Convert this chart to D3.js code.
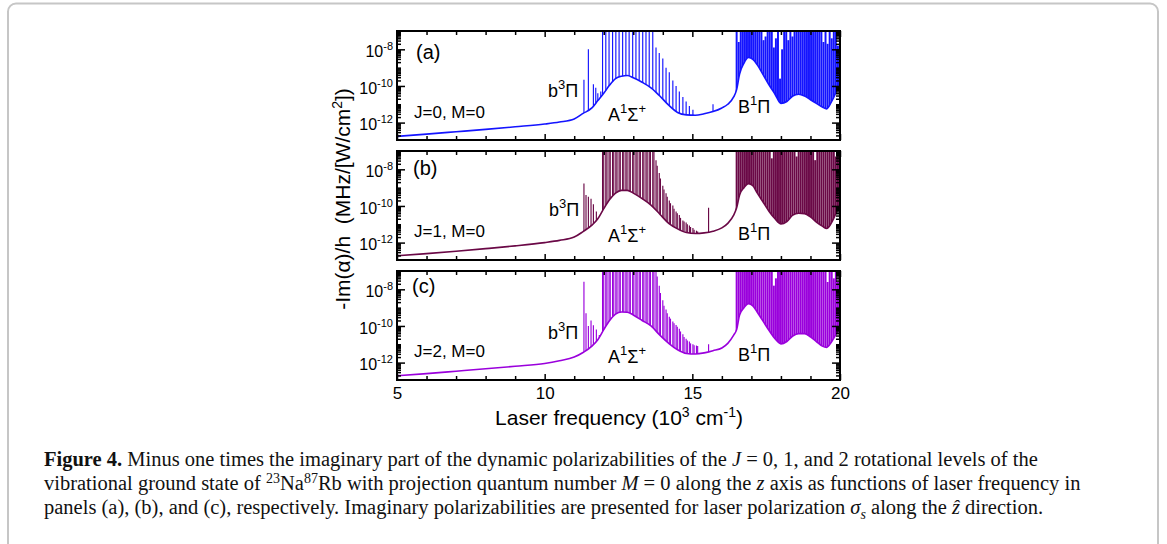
<!DOCTYPE html>
<html><head><meta charset="utf-8">
<script src="https://cdn.jsdelivr.net/npm/d3@7"></script>
<style>
html,body{margin:0;padding:0;background:#fff;}
svg{display:block;}
text{white-space:pre;}
</style></head><body>
<svg id="c" width="1167" height="544"></svg>
<script>
// ---------------- DATA (log10 of -Im(alpha)/h, MHz/[W/cm^2]) ----------------
const xMajor = [5, 10, 15, 20];
const xMinor = [6, 7, 8, 9, 11, 12, 13, 14, 16, 17, 18, 19];
const yMajorExp = [-12, -10, -8];
const panelLabels = ["(a)", "(b)", "(c)"];
const stateLabels = ["J=0, M=0", "J=1, M=0", "J=2, M=0"];

// smooth background (continuum / line wings)
const bgX = [5, 6, 7, 8, 9, 10, 10.5, 11, 11.3, 11.6, 11.8, 12.0, 12.2, 12.4, 12.6, 12.8, 13.0, 13.3, 13.6, 13.9,
  14.2, 14.5, 14.8, 15.1, 15.4, 15.7, 16.0, 16.2, 16.4, 16.5, 16.6, 16.75, 16.9, 17.05, 17.2, 17.4, 17.6, 17.8, 18.0, 18.2,
  18.4, 18.6, 18.8, 19.0, 19.2, 19.4, 19.55, 19.7, 19.85, 20];
const bgA = [-12.75, -12.63, -12.5, -12.37, -12.23, -12.08, -11.97, -11.8, -11.5, -11.2, -10.8, -10.4, -9.95, -9.6, -9.47, -9.43, -9.55, -9.8, -10.1, -10.55,
  -11.05, -11.45, -11.58, -11.6, -11.52, -11.4, -11.2, -11.0, -10.6, -10.2, -9.35, -8.75, -8.45, -8.55, -8.85, -9.4, -9.95, -10.45, -10.95, -10.85,
  -10.55, -10.45, -10.55, -10.75, -10.95, -11.15, -11.25, -10.9, -10.4, -9.7];
const bgB = [-12.72, -12.6, -12.47, -12.33, -12.18, -12.0, -11.88, -11.7, -11.4, -11.05, -10.7, -10.15, -9.65, -9.3, -9.15, -9.15, -9.3, -9.6, -9.95, -10.45,
  -10.95, -11.25, -11.45, -11.5, -11.47, -11.38, -11.2, -10.95, -10.5, -10.1, -9.4, -9.0, -8.78, -8.9, -9.3, -9.8, -10.3, -10.7, -10.98, -10.85,
  -10.5, -10.4, -10.42, -10.6, -10.88, -11.1, -11.23, -10.95, -10.45, -9.87];
const bgC = [-12.72, -12.6, -12.47, -12.34, -12.2, -12.05, -11.9, -11.7, -11.45, -11.1, -10.75, -10.2, -9.7, -9.35, -9.24, -9.25, -9.4, -9.7, -10.0, -10.5,
  -10.95, -11.3, -11.5, -11.53, -11.47, -11.35, -11.2, -10.95, -10.5, -10.2, -9.4, -9.0, -8.78, -8.9, -9.25, -9.75, -10.25, -10.7, -10.98, -10.85,
  -10.55, -10.42, -10.42, -10.6, -10.85, -11.1, -11.17, -10.9, -10.5, -10.07];

// resonance lines, b3Pi / A1Sigma+ region, panel (a)
const lineAX = [11.33, 11.48, 11.65, 11.73, 11.80, 11.90,
  11.96, 12.07, 12.18, 12.30, 12.41, 12.52, 12.64, 12.75, 12.86, 12.98, 13.09, 13.20, 13.32, 13.43, 13.54, 13.66,
  13.77, 13.88, 14.00, 14.11, 14.22, 14.34, 14.45, 14.56, 14.68, 14.79, 14.90, 15.02, 15.70];
const lineTopA = [-9.66, -8.0, -9.9, -10.1, -10.4, -10.3,
  -6, -6, -6, -6, -6, -6, -6, -6, -6, -6, -6, -6, -6, -6, -6, -6,
  -7.9, -8.2, -8.5, -9.0, -9.25, -9.7, -10.0, -10.3, -10.6, -10.85, -11.1, -11.3, -11.0];

// resonance lines, b3Pi / A1Sigma+ region, panels (b) and (c)
const lineBCX = [11.33, 11.40, 11.48, 11.57, 11.65, 11.75, 11.85,
  11.96, 12.00, 12.07, 12.11, 12.18, 12.22, 12.30, 12.34, 12.41, 12.45, 12.52, 12.56, 12.64, 12.68, 12.75, 12.79,
  12.86, 12.90, 12.98, 13.02, 13.09, 13.13, 13.20, 13.24, 13.32, 13.36, 13.43, 13.47, 13.54, 13.58, 13.66, 13.70,
  13.77, 13.81, 13.88, 13.92, 14.00, 14.04, 14.11, 14.15, 14.22, 14.26, 14.34, 14.38, 14.45, 14.49, 14.56, 14.60,
  14.68, 14.72, 14.79, 14.83, 14.90, 14.94, 15.02, 15.06, 15.14, 15.18, 15.55];
const lineTopB = [-8.78, -9.4, -9.5, -9.6, -9.9, -10.3, -10.6,
  -6, -6, -6, -6, -6, -6, -6, -6, -6, -6, -6, -6, -6, -6, -6, -6,
  -6, -6, -6, -6, -6, -6, -6, -6, -6, -6, -6, -6, -6, -6, -6, -6,
  -7.5, -7.8, -8.2, -8.5, -8.9, -9.1, -9.3, -9.5, -9.7, -9.85, -9.97, -10.15, -10.3, -10.4, -10.5, -10.65,
  -10.8, -10.85, -10.9, -11.0, -11.07, -11.15, -11.2, -11.3, -11.35, -11.4, -10.1];
const lineTopC = [-7.59, -9.3, -10.0, -9.7, -9.96, -10.2, -10.5,
  -6, -6, -6, -6, -6, -6, -6, -6, -6, -6, -6, -6, -6, -6, -6, -6,
  -6, -6, -6, -6, -6, -6, -6, -6, -6, -6, -6, -6, -6, -6, -6, -6,
  -6.9, -7.3, -7.8, -8.2, -8.6, -8.9, -9.1, -9.3, -9.5, -9.6, -9.75, -9.85, -9.95, -10.05, -10.15, -10.3,
  -10.45, -10.6, -10.7, -10.8, -10.85, -10.95, -11.0, -11.05, -11.07, -11.1, -11.0];

// dense B1Pi band lines
const bandX = [16.50, 16.57, 16.64, 16.71, 16.78, 16.85, 16.92, 16.99, 17.06, 17.13, 17.20, 17.27, 17.34, 17.41, 17.48, 17.55, 17.62,
  17.69, 17.76, 17.83, 17.90, 17.97, 18.04, 18.11, 18.18, 18.25, 18.32, 18.39, 18.46, 18.53, 18.60, 18.67, 18.74, 18.81,
  18.88, 18.95, 19.02, 19.09, 19.16, 19.23, 19.30, 19.37, 19.44, 19.51, 19.58, 19.65, 19.72, 19.79, 19.86, 19.93, 19.99];
const bandTopA = [-6, -7.6, -6, -6, -6, -6, -6, -6, -6, -6, -6, -6, -6, -7.5, -7.3, -6, -6,
  -6, -7.9, -7.4, -6, -9.6, -8.0, -6, -6, -7.5, -6, -7.3, -6, -6, -6, -6, -6, -6,
  -6, -6, -6, -6, -6, -6, -6, -6, -7.6, -6, -7.7, -6, -7.4, -6, -6, -7.8, -8.2];
const bandTopB = [-6, -6, -6, -6, -6, -6, -6, -6, -6, -6, -6, -6, -6, -6, -6, -6, -6,
  -7.4, -6, -6, -6, -6, -6, -6, -6, -6, -6, -6, -6, -7.3, -6, -6, -6, -6,
  -6, -6, -6, -6, -7.5, -6, -6, -6, -6, -6, -6, -6, -6, -6, -7.3, -6, -6];
const bandTopC = [-6, -6, -6, -6, -6, -6, -6, -6, -6, -6, -6, -6, -6, -6, -6, -6, -6,
  -6, -7.8, -7.4, -6, -6, -6, -6, -6, -6, -6, -6, -6, -6, -6, -6, -6, -6,
  -6, -6, -6, -6, -6, -6, -6, -6, -6, -6, -7.6, -6, -6, -7.4, -6, -7.6, -6];

// ---------------- DRAWING ----------------
const svg = d3.select("#c");
const SANS = "'Liberation Sans', Arial, sans-serif";
const SERIF = "'Liberation Serif', 'Times New Roman', serif";

svg.append("rect").attr("x", 8).attr("y", 3.5).attr("width", 1150).attr("height", 620)
  .attr("rx", 8).attr("fill", "none").attr("stroke", "#c6c6c6").attr("stroke-width", 2);

function rich(textSel, parts, supShift, supSize) {
  let shift = 0;
  parts.forEach(p => {
    const ts = textSel.append("tspan").text(p.t);
    const target = p.sup ? -supShift : (p.sub ? supShift * 0.6 : 0);
    if (target !== shift) ts.attr("dy", target - shift);
    shift = target;
    if (p.sup || p.sub) ts.attr("font-size", supSize);
    if (p.b) ts.attr("font-weight", "bold");
    if (p.i) ts.attr("font-style", "italic");
  });
}

const x = d3.scaleLinear().domain([5, 20]).range([397, 840]);
const panelTops = [31, 151, 271];
const H = 109;
const colors = ["#1414ff", "#6a0846", "#9a00dc"];
const bgs = [bgA, bgB, bgC];
const lineXs = [lineAX, lineBCX, lineBCX];
const lineTops = [lineTopA, lineTopB, lineTopC];
const bandTops = [bandTopA, bandTopB, bandTopC];

const labelPos = [
  {p: [416, 59], s: [414, 118], b: [548, 97], a: [608, 121], B: [738, 113]},
  {p: [413, 175], s: [414, 237], b: [549, 216], a: [608, 242], B: [738, 240]},
  {p: [412, 293], s: [414, 357], b: [548, 339], a: [608, 363], B: [738, 361]}
];

const minorY = [];
for (let k = -13; k <= -8; k++) for (let m = 1; m <= 9; m++) {
  const v = m * Math.pow(10, k);
  if (m === 1 && (k === -12 || k === -10 || k === -8)) continue;
  if (v >= Math.pow(10, -12.95) && v <= 1e-7) minorY.push(v);
}

panelTops.forEach((top, i) => {
  const y = d3.scaleLog().domain([Math.pow(10, -12.95), 1e-7]).range([top + H, top]);
  const g = svg.append("g");
  const col = colors[i];
  const cid = "clip" + i;
  svg.append("clipPath").attr("id", cid).append("rect")
    .attr("x", x(5)).attr("y", top).attr("width", x(20) - x(5)).attr("height", H);
  const plot = g.append("g").attr("clip-path", `url(#${cid})`);

  const bgData = bgX.map((d, j) => ({x: d, v: bgs[i][j]}));
  const lines = lineXs[i].map((d, j) => ({x: d, v: lineTops[i][j]}))
    .concat(bandX.map((d, j) => ({x: d, v: bandTops[i][j], band: true})));

  plot.selectAll("line.sp").data(lines).join("line").attr("class", "sp")
    .attr("x1", d => x(d.x)).attr("x2", d => x(d.x))
    .attr("y1", top + H + 2).attr("y2", d => y(Math.pow(10, d.v)))
    .attr("stroke", col).attr("stroke-width", d => d.band ? 1.95 : 1.15);

  // white below the continuum
  plot.append("path").datum(bgData)
    .attr("d", d3.area().curve(d3.curveMonotoneX).x(d => x(d.x)).y0(top + H + 3).y1(d => y(Math.pow(10, d.v))))
    .attr("fill", "#fff");
  plot.append("path").datum(bgData)
    .attr("d", d3.line().curve(d3.curveMonotoneX).x(d => x(d.x)).y(d => y(Math.pow(10, d.v))))
    .attr("fill", "none").attr("stroke", col).attr("stroke-width", 1.6);

  // axes (ticks inward)
  const styleAxis = sel => { sel.select(".domain").remove(); sel.selectAll(".tick line").attr("stroke", "#000").attr("stroke-width", 1.5); };
  g.append("g").attr("transform", `translate(${x(5)},0)`)
    .call(d3.axisLeft(y).tickValues(minorY).tickSize(-4).tickFormat("")).call(styleAxis);
  g.append("g").attr("transform", `translate(${x(20)},0)`)
    .call(d3.axisRight(y).tickValues(minorY).tickSize(-4).tickFormat("")).call(styleAxis);
  g.append("g").attr("transform", `translate(${x(20)},0)`)
    .call(d3.axisRight(y).tickValues(yMajorExp.map(e => Math.pow(10, e))).tickSize(-8).tickFormat("")).call(styleAxis);
  const la = g.append("g").attr("transform", `translate(${x(5)},0)`)
    .call(d3.axisLeft(y).tickValues(yMajorExp.map(e => Math.pow(10, e))).tickSize(-8).tickPadding(4))
    .call(styleAxis);
  la.selectAll(".tick text").each(function (d) {
    const e = Math.round(Math.log10(d));
    const t = d3.select(this).text(null).attr("font-family", SANS).attr("font-size", 16).attr("fill", "#000").attr("dy", "0.45em");
    rich(t, [{t: "10"}, {t: String(e), sup: true}], 7, 11);
  });
  g.append("g").attr("transform", `translate(0,${top})`)
    .call(d3.axisTop(x).tickValues(xMinor).tickSize(-4).tickFormat("")).call(styleAxis);
  g.append("g").attr("transform", `translate(0,${top})`)
    .call(d3.axisTop(x).tickValues(xMajor).tickSize(-6).tickFormat("")).call(styleAxis);
  g.append("g").attr("transform", `translate(0,${top + H})`)
    .call(d3.axisBottom(x).tickValues(xMinor).tickSize(-4).tickFormat("")).call(styleAxis);
  const bx = g.append("g").attr("transform", `translate(0,${top + H})`)
    .call(d3.axisBottom(x).tickValues(xMajor).tickSize(-6).tickPadding(7).tickFormat(i === 2 ? d3.format("d") : ""))
    .call(styleAxis);
  bx.selectAll(".tick text").attr("font-family", SANS).attr("font-size", 17).attr("fill", "#000");

  g.append("rect").attr("x", x(5)).attr("y", top).attr("width", x(20) - x(5)).attr("height", H)
    .attr("fill", "none").attr("stroke", "#000").attr("stroke-width", 2);

  const L = labelPos[i];
  g.append("text").attr("x", L.p[0]).attr("y", L.p[1]).attr("font-family", SANS).attr("font-size", 20).text(panelLabels[i]);
  g.append("text").attr("x", L.s[0]).attr("y", L.s[1]).attr("font-family", SANS).attr("font-size", 17).text(stateLabels[i]);
  rich(g.append("text").attr("x", L.b[0]).attr("y", L.b[1]).attr("font-family", SANS).attr("font-size", 18),
    [{t: "b"}, {t: "3", sup: true}, {t: "Π"}], 8, 13);
  rich(g.append("text").attr("x", L.a[0]).attr("y", L.a[1]).attr("font-family", SANS).attr("font-size", 18),
    [{t: "A"}, {t: "1", sup: true}, {t: "Σ"}, {t: "+", sup: true}], 8, 13);
  rich(g.append("text").attr("x", L.B[0]).attr("y", L.B[1]).attr("font-family", SANS).attr("font-size", 18),
    [{t: "B"}, {t: "1", sup: true}, {t: "Π"}], 8, 13);
});

// axis titles
rich(svg.append("text").attr("transform", "translate(350,199) rotate(-90)").attr("text-anchor", "middle")
  .attr("font-family", SANS).attr("font-size", 21),
  [{t: "-Im(α)/h  (MHz/[W/cm"}, {t: "2", sup: true}, {t: "])"}], 8, 14);
rich(svg.append("text").attr("x", 619).attr("y", 425).attr("text-anchor", "middle")
  .attr("font-family", SANS).attr("font-size", 21),
  [{t: "Laser frequency (10"}, {t: "3", sup: true}, {t: " cm"}, {t: "-1", sup: true}, {t: ")"}], 8, 14);

// caption
const capLines = [
  [{t: "Figure 4.", b: true}, {t: " Minus one times the imaginary part of the dynamic polarizabilities of the "}, {t: "J", i: true}, {t: " = 0, 1, and 2 rotational levels of the"}],
  [{t: "vibrational ground state of "}, {t: "23", sup: true}, {t: "Na"}, {t: "87", sup: true}, {t: "Rb with projection quantum number "}, {t: "M", i: true}, {t: " = 0 along the "}, {t: "z", i: true}, {t: " axis as functions of laser frequency in"}],
  [{t: "panels (a), (b), and (c), respectively. Imaginary polarizabilities are presented for laser polarization "}, {t: "σ", i: true}, {t: "s", i: true, sub: true}, {t: " along the "}, {t: "ẑ", i: true}, {t: " direction."}]
];
const capY = [466, 490, 514];
capLines.forEach((parts, k) => {
  rich(svg.append("text").attr("x", 44).attr("y", capY[k]).attr("font-family", SERIF).attr("font-size", 20.5).attr("fill", "#111"),
    parts, 7.5, 14);
});
</script>
</body></html>
